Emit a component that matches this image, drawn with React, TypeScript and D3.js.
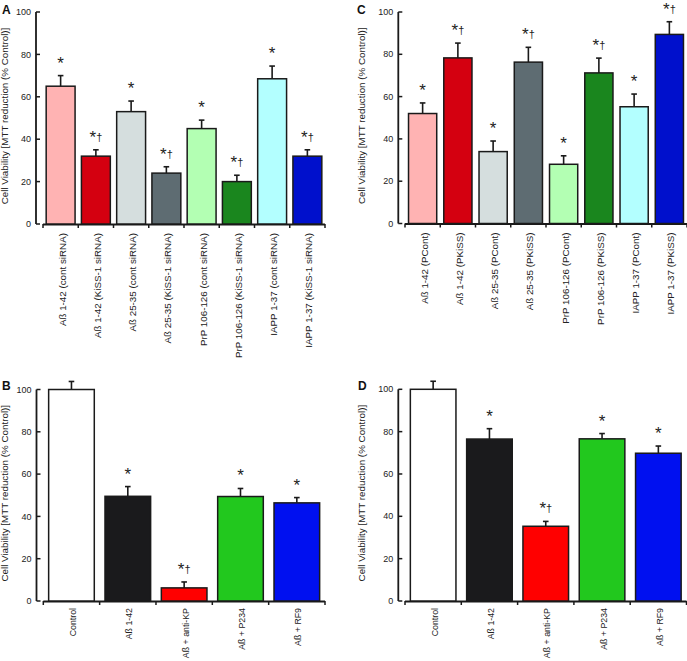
import React from "react";
import * as d3 from "d3";

const labelsA = ["Aß 1-42 (cont siRNA)", "Aß 1-42 (KiSS-1 siRNA)", "Aß 25-35 (cont siRNA)", "Aß 25-35 (KiSS-1 siRNA)", "PrP 106-126 (cont siRNA)", "PrP 106-126 (KiSS-1 siRNA)", "IAPP 1-37 (cont siRNA)", "IAPP 1-37 (KiSS-1 siRNA)"];
const valuesA = [65, 32, 53, 24, 45, 20, 68.5, 32];
const errorsA = [5, 3, 5, 3, 4, 3, 6, 3];
const marksA = ["*", "*†", "*", "*†", "*", "*†", "*", "*†"];
const colorsA = ["#FFB3B3", "#D40010", "#D5DEDE", "#5E6C72", "#B3FFB3", "#1A861E", "#B3FFFF", "#0010CC"];

const labelsC = ["Aß 1-42 (PCont)", "Aß 1-42 (PKiSS)", "Aß 25-35 (PCont)", "Aß 25-35 (PKiSS)", "PrP 106-126 (PCont)", "PrP 106-126 (PKiSS)", "IAPP 1-37 (PCont)", "IAPP 1-37 (PKiSS)"];
const valuesC = [52, 78.3, 34, 76.3, 28, 71.2, 55.2, 89.4];
const errorsC = [5, 7, 5, 7, 4, 7, 6, 6];
const marksC = ["*", "*†", "*", "*†", "*", "*†", "*", "*†"];
const colorsC = colorsA;

const labelsB = ["Control", "Aß 1-42", "Aß + anti-KP", "Aß + P234", "Aß + RF9"];
const valuesB = [100, 49.5, 6.2, 49.4, 46.4];
const errorsB = [3.8, 4.6, 2.8, 3.8, 2.5];
const marksB = ["", "*", "*†", "*", "*"];
const colorsB = ["#FFFFFF", "#1A1A1C", "#FF0000", "#22C81E", "#0010F0"];

const labelsD = labelsB;
const valuesD = [100, 76.5, 35.3, 76.6, 69.8];
const errorsD = [3.8, 4.9, 2.3, 2.5, 3.4];
const marksD = ["", "*", "*†", "*", "*"];
const colorsD = colorsB;

const yTicks = [0, 20, 40, 60, 80, 100];
const yTitle = "Cell Viability [MTT reduction (% Control)]";

type PanelProps = {
  letter: string;
  letterX: number;
  letterY: number;
  titleX: number;
  axisX: number;
  y0: number;
  y100: number;
  xStart: number;
  xEnd: number;
  labels: string[];
  values: number[];
  errors: number[];
  marks: string[];
  colors: string[];
  padding: number;
  labelSize: number;
  labelGap: number;
};

const FONT = "Arial, 'Liberation Sans', Helvetica, sans-serif";

function Panel(p: PanelProps) {
  const y = d3.scaleLinear().domain([0, 100]).range([p.y0, p.y100]);
  const x = d3.scaleBand<string>().domain(p.labels).range([p.xStart, p.xEnd]).paddingInner(p.padding).paddingOuter(p.padding / 2);
  const step = x.step();
  const stroke = "#1a1a1a";
  return (
    <g>
      <text x={p.letterX} y={p.letterY} fontFamily={FONT} fontWeight="bold" fontSize={12} fill="#111">{p.letter}</text>
      <text transform={`translate(${p.titleX},${(p.y0 + p.y100) / 2 - 2}) rotate(-90)`} textAnchor="middle" dy="0.35em" fontFamily={FONT} fontSize={9.8} fill="#222">{yTitle}</text>
      {/* y axis */}
      <line x1={p.axisX} x2={p.axisX} y1={y(100)} y2={y(0)} stroke={stroke} strokeWidth={1.8} />
      {yTicks.map((t) => (
        <g key={t}>
          <line x1={p.axisX} x2={p.axisX + 4} y1={y(t)} y2={y(t)} stroke={stroke} strokeWidth={1.5} />
          <text x={p.axisX - 5} y={y(t)} dy="0.35em" textAnchor="end" fontFamily={FONT} fontSize={9} fill="#222">{t}</text>
        </g>
      ))}
      {/* x axis */}
      <line x1={p.xStart} x2={p.xEnd} y1={p.y0 + 0.5} y2={p.y0 + 0.5} stroke={stroke} strokeWidth={1.8} />
      {d3.range(p.labels.length + 1).map((i) => (
        <line key={i} x1={p.xStart + i * step} x2={p.xStart + i * step} y1={p.y0} y2={p.y0 + 4} stroke={stroke} strokeWidth={1.5} />
      ))}
      {p.labels.map((l, i) => {
        const bx = x(l)!;
        const bw = x.bandwidth();
        const cx = bx + bw / 2;
        const top = y(p.values[i]);
        const et = y(p.values[i] + p.errors[i]);
        const m = p.marks[i];
        return (
          <g key={l}>
            <line x1={cx} x2={cx} y1={top} y2={et} stroke={stroke} strokeWidth={1.6} />
            <line x1={cx - 2.8} x2={cx + 2.8} y1={et} y2={et} stroke={stroke} strokeWidth={1.6} />
            <rect x={bx} y={top} width={bw} height={p.y0 - top} fill={p.colors[i]} stroke={stroke} strokeWidth={1.5} />
            {m && (
              <text x={cx} y={et - 7} textAnchor="middle" fontFamily={FONT} fill="#222">
                <tspan fontSize={17}>*</tspan>
                {m.length > 1 && <tspan fontSize={11} dy={-2}>†</tspan>}
              </text>
            )}
            <text transform={`translate(${cx + 1.5},${p.y0 + p.labelGap}) rotate(-90)`} textAnchor="end" dy="0.35em" fontFamily={FONT} fontSize={p.labelSize} fill="#222">{l}</text>
          </g>
        );
      })}
    </g>
  );
}

export default function App() {
  return (
    <svg width={687} height={661} style={{ position: "absolute", left: 0, top: 0, background: "#fff" }}>
      <rect width={687} height={661} fill="#fff" />
      <Panel letter="A" letterX={2} letterY={14} titleX={5} axisX={36} y0={224} y100={12} xStart={43} xEnd={325}
        labels={labelsA} values={valuesA} errors={errorsA} marks={marksA} colors={colorsA} padding={0.18} labelSize={9.8} labelGap={9} />
      <Panel letter="C" letterX={357} letterY={14} titleX={361.5} axisX={398.3} y0={223.5} y100={12} xStart={405} xEnd={687}
        labels={labelsC} values={valuesC} errors={errorsC} marks={marksC} colors={colorsC} padding={0.2} labelSize={9.8} labelGap={9} />
      <Panel letter="B" letterX={2} letterY={390} titleX={5} axisX={36.5} y0={601} y100={389.5} xStart={43.3} xEnd={325}
        labels={labelsB} values={valuesB} errors={errorsB} marks={marksB} colors={colorsB} padding={0.19} labelSize={8.8} labelGap={7} />
      <Panel letter="D" letterX={358} letterY={390} titleX={361.5} axisX={398.3} y0={601} y100={389.3} xStart={405} xEnd={686.5}
        labels={labelsD} values={valuesD} errors={errorsD} marks={marksD} colors={colorsD} padding={0.19} labelSize={8.8} labelGap={7} />
    </svg>
  );
}
